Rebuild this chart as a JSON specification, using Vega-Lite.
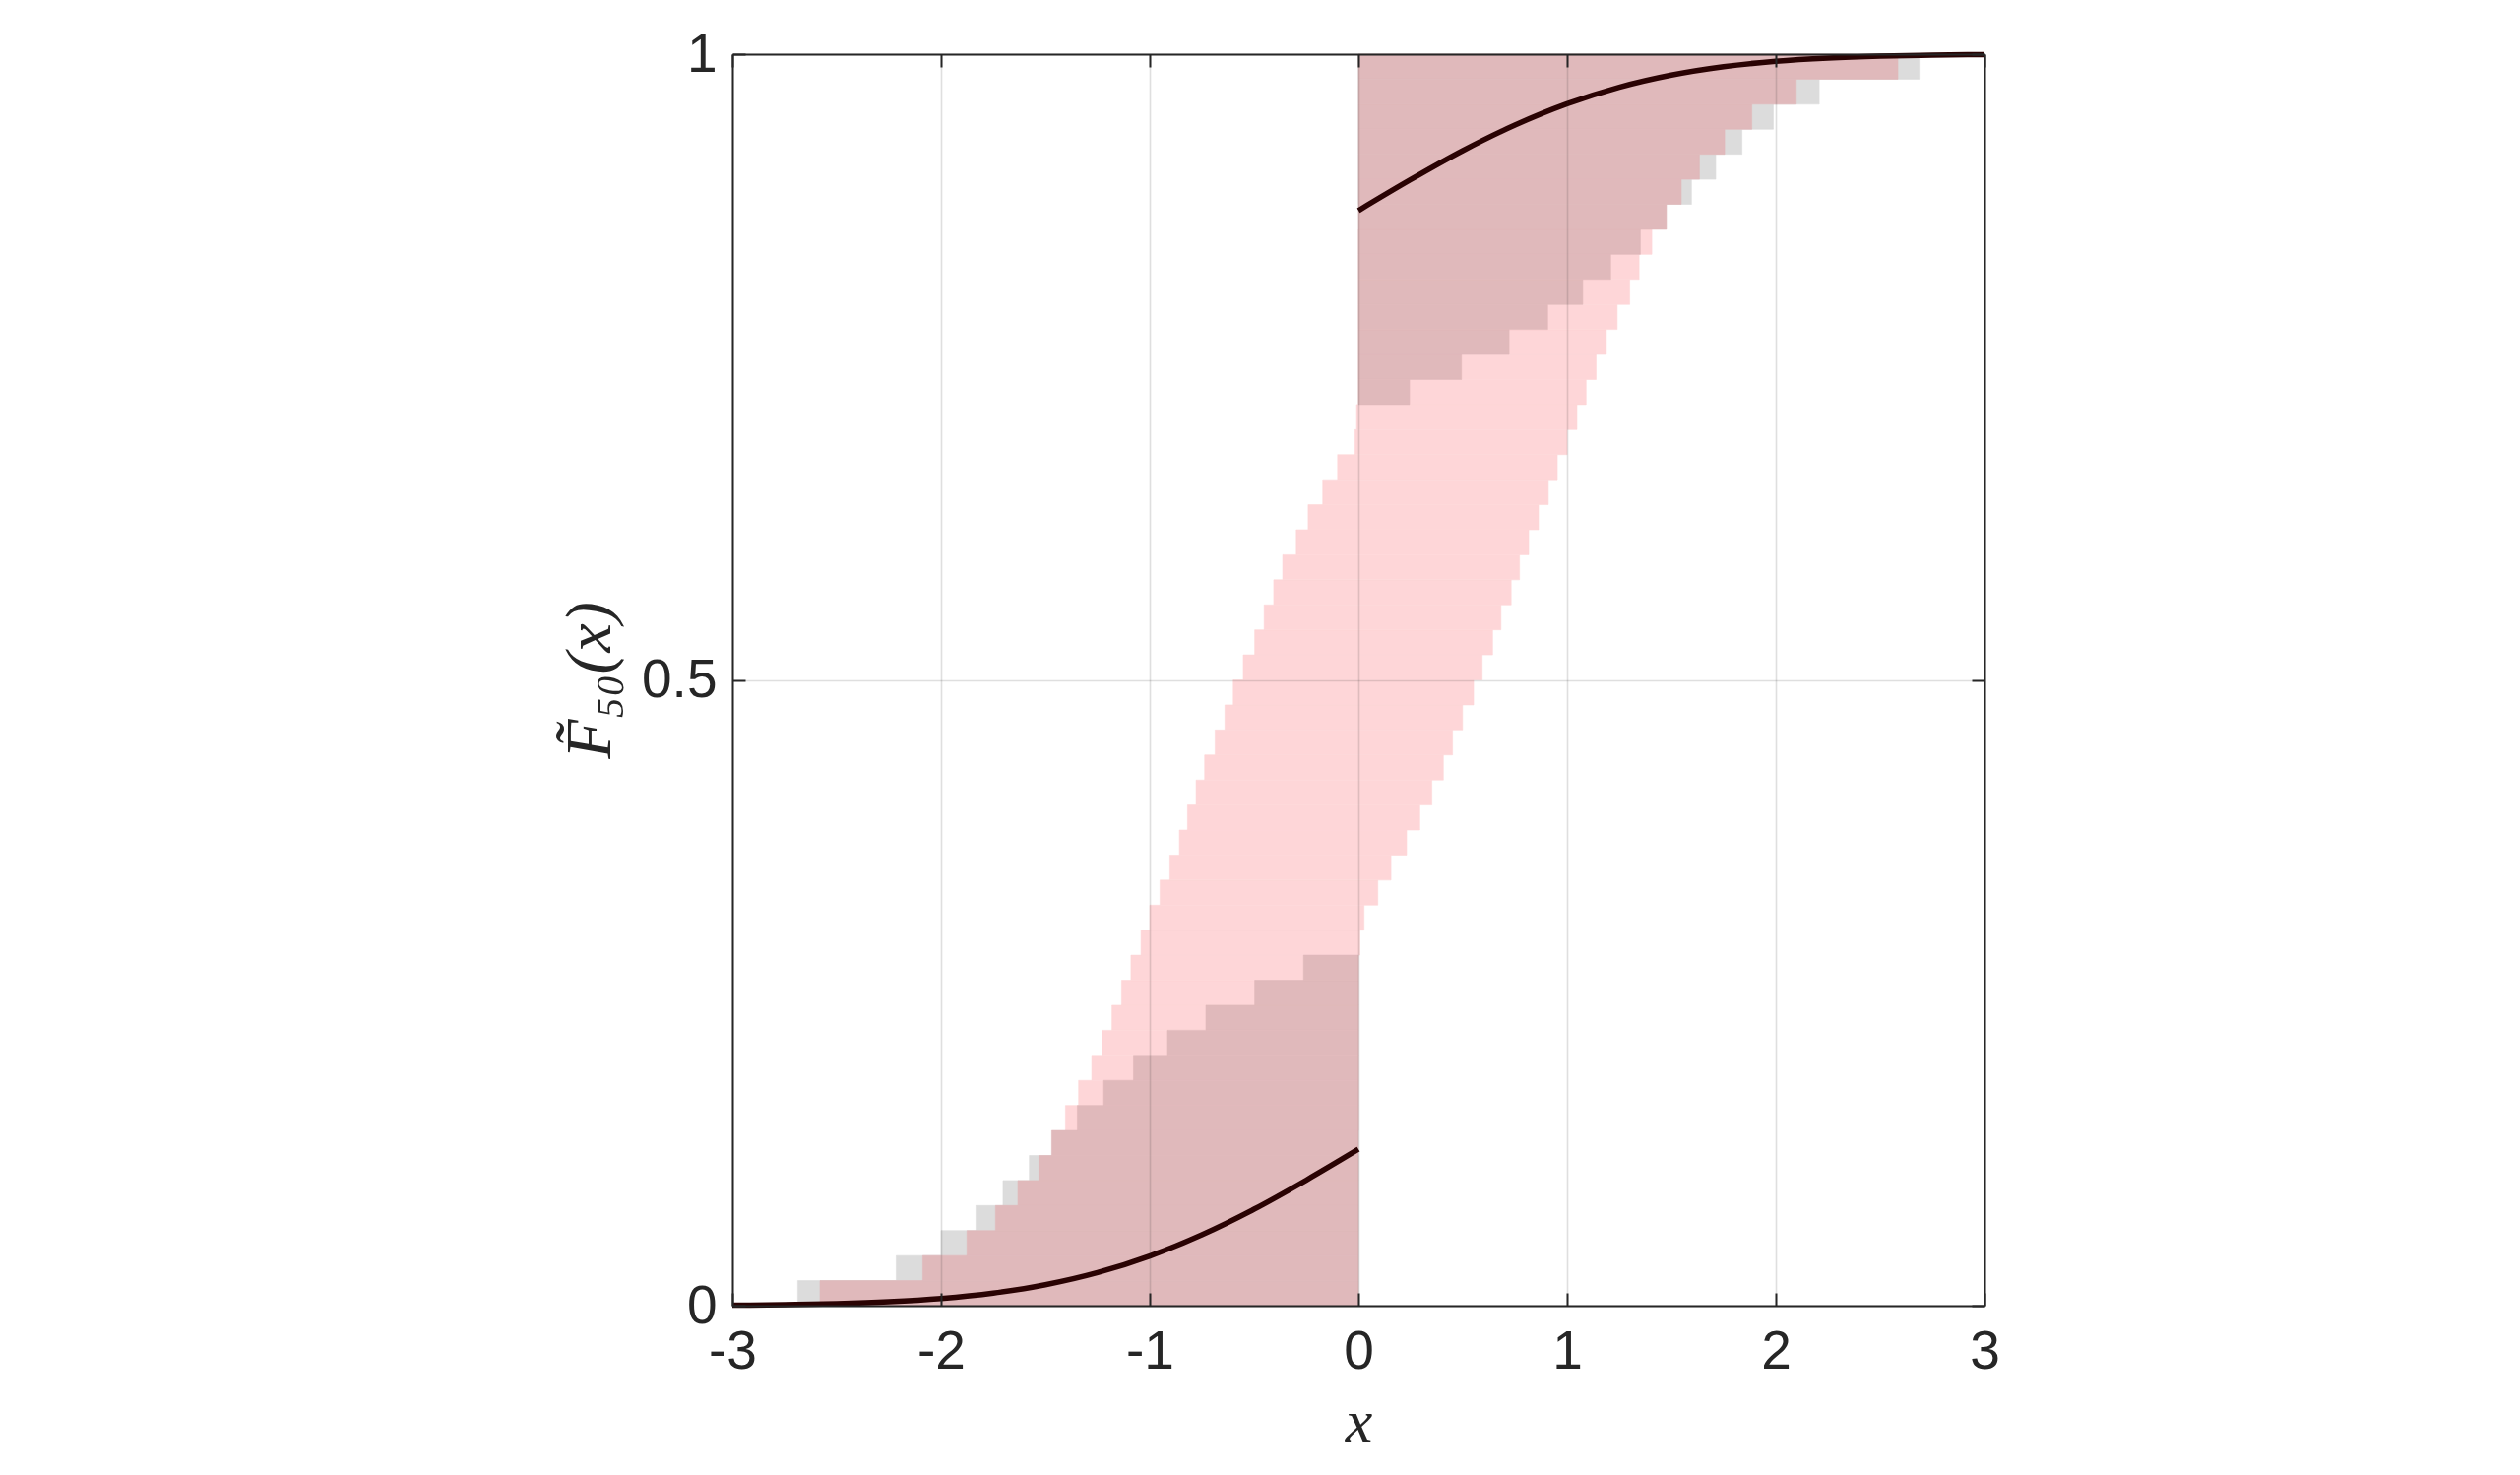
{
  "$schema": "https://vega.github.io/schema/vega-lite/v6.json",
  "autosize": {"type": "none"},
  "width": 1272,
  "height": 1271,
  "padding": {"left": 744, "top": 55, "right": 544, "bottom": 172},
  "background": "white",
  "config": {"view": {"stroke": null}},
  "datasets": {
    "pink": [
      {"y0": 0.14, "y1": 0.16, "xl": -1.404, "xr": 0},
      {"y0": 0.16, "y1": 0.18, "xl": -1.341, "xr": 0},
      {"y0": 0.18, "y1": 0.20, "xl": -1.278, "xr": 0},
      {"y0": 0.20, "y1": 0.22, "xl": -1.228, "xr": 0},
      {"y0": 0.22, "y1": 0.24, "xl": -1.181, "xr": 0},
      {"y0": 0.24, "y1": 0.26, "xl": -1.135, "xr": 0},
      {"y0": 0.26, "y1": 0.28, "xl": -1.090, "xr": 0},
      {"y0": 0.28, "y1": 0.30, "xl": -1.042, "xr": 0.007},
      {"y0": 0.30, "y1": 0.32, "xl": -1.000, "xr": 0.027},
      {"y0": 0.32, "y1": 0.34, "xl": -0.951, "xr": 0.093},
      {"y0": 0.34, "y1": 0.36, "xl": -0.904, "xr": 0.156},
      {"y0": 0.36, "y1": 0.38, "xl": -0.858, "xr": 0.231},
      {"y0": 0.38, "y1": 0.40, "xl": -0.819, "xr": 0.294},
      {"y0": 0.40, "y1": 0.42, "xl": -0.778, "xr": 0.352},
      {"y0": 0.42, "y1": 0.44, "xl": -0.737, "xr": 0.407},
      {"y0": 0.44, "y1": 0.46, "xl": -0.687, "xr": 0.451},
      {"y0": 0.46, "y1": 0.48, "xl": -0.640, "xr": 0.499},
      {"y0": 0.48, "y1": 0.50, "xl": -0.600, "xr": 0.552},
      {"y0": 0.50, "y1": 0.52, "xl": -0.552, "xr": 0.593},
      {"y0": 0.52, "y1": 0.54, "xl": -0.497, "xr": 0.643},
      {"y0": 0.54, "y1": 0.56, "xl": -0.452, "xr": 0.683},
      {"y0": 0.56, "y1": 0.58, "xl": -0.406, "xr": 0.732},
      {"y0": 0.58, "y1": 0.60, "xl": -0.363, "xr": 0.772},
      {"y0": 0.60, "y1": 0.62, "xl": -0.298, "xr": 0.816},
      {"y0": 0.62, "y1": 0.64, "xl": -0.241, "xr": 0.863},
      {"y0": 0.64, "y1": 0.66, "xl": -0.171, "xr": 0.910},
      {"y0": 0.66, "y1": 0.68, "xl": -0.100, "xr": 0.953},
      {"y0": 0.68, "y1": 0.70, "xl": -0.017, "xr": 1.000},
      {"y0": 0.70, "y1": 0.72, "xl": -0.009, "xr": 1.047},
      {"y0": 0.72, "y1": 0.74, "xl": 0, "xr": 1.091},
      {"y0": 0.74, "y1": 0.76, "xl": 0, "xr": 1.139},
      {"y0": 0.76, "y1": 0.78, "xl": 0, "xr": 1.188},
      {"y0": 0.78, "y1": 0.80, "xl": 0, "xr": 1.240},
      {"y0": 0.80, "y1": 0.82, "xl": 0, "xr": 1.300},
      {"y0": 0.82, "y1": 0.84, "xl": 0, "xr": 1.345},
      {"y0": 0.84, "y1": 0.86, "xl": 0, "xr": 1.406}
    ],
    "grey": [
      {"y0": 0.00, "y1": 0.02, "x0": -2.687, "x1": 0},
      {"y0": 0.02, "y1": 0.04, "x0": -2.215, "x1": 0},
      {"y0": 0.04, "y1": 0.06, "x0": -2.000, "x1": 0},
      {"y0": 0.06, "y1": 0.08, "x0": -1.833, "x1": 0},
      {"y0": 0.08, "y1": 0.10, "x0": -1.703, "x1": 0},
      {"y0": 0.10, "y1": 0.12, "x0": -1.577, "x1": 0},
      {"y0": 0.88, "y1": 0.90, "x0": 0, "x1": 1.596},
      {"y0": 0.90, "y1": 0.92, "x0": 0, "x1": 1.712},
      {"y0": 0.92, "y1": 0.94, "x0": 0, "x1": 1.838},
      {"y0": 0.94, "y1": 0.96, "x0": 0, "x1": 1.988},
      {"y0": 0.96, "y1": 0.98, "x0": 0, "x1": 2.208},
      {"y0": 0.98, "y1": 1.00, "x0": 0, "x1": 2.687}
    ],
    "mauve": [
      {"y0": 0.00, "y1": 0.02, "x0": -2.580, "x1": 0},
      {"y0": 0.02, "y1": 0.04, "x0": -2.088, "x1": 0},
      {"y0": 0.04, "y1": 0.06, "x0": -1.876, "x1": 0},
      {"y0": 0.06, "y1": 0.08, "x0": -1.739, "x1": 0},
      {"y0": 0.08, "y1": 0.10, "x0": -1.632, "x1": 0},
      {"y0": 0.10, "y1": 0.12, "x0": -1.531, "x1": 0},
      {"y0": 0.12, "y1": 0.14, "x0": -1.470, "x1": 0},
      {"y0": 0.14, "y1": 0.16, "x0": -1.347, "x1": 0},
      {"y0": 0.16, "y1": 0.18, "x0": -1.221, "x1": 0},
      {"y0": 0.18, "y1": 0.20, "x0": -1.078, "x1": 0},
      {"y0": 0.20, "y1": 0.22, "x0": -0.915, "x1": 0},
      {"y0": 0.22, "y1": 0.24, "x0": -0.731, "x1": 0},
      {"y0": 0.24, "y1": 0.26, "x0": -0.497, "x1": 0},
      {"y0": 0.26, "y1": 0.28, "x0": -0.263, "x1": 0},
      {"y0": 0.72, "y1": 0.74, "x0": 0, "x1": 0.245},
      {"y0": 0.74, "y1": 0.76, "x0": 0, "x1": 0.494},
      {"y0": 0.76, "y1": 0.78, "x0": 0, "x1": 0.722},
      {"y0": 0.78, "y1": 0.80, "x0": 0, "x1": 0.907},
      {"y0": 0.80, "y1": 0.82, "x0": 0, "x1": 1.075},
      {"y0": 0.82, "y1": 0.84, "x0": 0, "x1": 1.209},
      {"y0": 0.84, "y1": 0.86, "x0": 0, "x1": 1.351},
      {"y0": 0.86, "y1": 0.88, "x0": 0, "x1": 1.476},
      {"y0": 0.88, "y1": 0.90, "x0": 0, "x1": 1.547},
      {"y0": 0.90, "y1": 0.92, "x0": 0, "x1": 1.634},
      {"y0": 0.92, "y1": 0.94, "x0": 0, "x1": 1.755},
      {"y0": 0.94, "y1": 0.96, "x0": 0, "x1": 1.885},
      {"y0": 0.96, "y1": 0.98, "x0": 0, "x1": 2.098},
      {"y0": 0.98, "y1": 1.00, "x0": 0, "x1": 2.585}
    ],
    "curve": [
      {"seg": "L", "x": -3.0, "y": 0.0003},
      {"seg": "L", "x": -2.75, "y": 0.0008},
      {"seg": "L", "x": -2.5, "y": 0.0016},
      {"seg": "L", "x": -2.25, "y": 0.0031},
      {"seg": "L", "x": -2.0, "y": 0.0057},
      {"seg": "L", "x": -1.75, "y": 0.0100},
      {"seg": "L", "x": -1.5, "y": 0.0167},
      {"seg": "L", "x": -1.25, "y": 0.0264},
      {"seg": "L", "x": -1.0, "y": 0.0397},
      {"seg": "L", "x": -0.75, "y": 0.0567},
      {"seg": "L", "x": -0.5, "y": 0.0771},
      {"seg": "L", "x": -0.25, "y": 0.1003},
      {"seg": "L", "x": 0.0, "y": 0.125},
      {"seg": "R", "x": 0.0, "y": 0.875},
      {"seg": "R", "x": 0.25, "y": 0.8997},
      {"seg": "R", "x": 0.5, "y": 0.9229},
      {"seg": "R", "x": 0.75, "y": 0.9433},
      {"seg": "R", "x": 1.0, "y": 0.9603},
      {"seg": "R", "x": 1.25, "y": 0.9736},
      {"seg": "R", "x": 1.5, "y": 0.9833},
      {"seg": "R", "x": 1.75, "y": 0.9900},
      {"seg": "R", "x": 2.0, "y": 0.9943},
      {"seg": "R", "x": 2.25, "y": 0.9969},
      {"seg": "R", "x": 2.5, "y": 0.9984},
      {"seg": "R", "x": 2.75, "y": 0.9992},
      {"seg": "R", "x": 3.0, "y": 0.9997}
    ]
  },
  "resolve": {"axis": {"x": "independent", "y": "independent"}},
  "layer": [
    {
      "data": {"name": "pink"},
      "mark": {"type": "rect", "color": "#FED6D8", "stroke": "#FED6D8", "strokeWidth": 0.6},
      "encoding": {
        "x": {"field": "xl", "type": "quantitative", "scale": {"domain": [-3, 3], "nice": false, "zero": false}, "axis": null},
        "x2": {"field": "xr"},
        "y": {"field": "y0", "type": "quantitative", "scale": {"domain": [0, 1], "nice": false}, "axis": null},
        "y2": {"field": "y1"}
      }
    },
    {
      "data": {"name": "grey"},
      "mark": {"type": "rect", "color": "#DCDCDC", "stroke": "#DCDCDC", "strokeWidth": 0.6},
      "encoding": {
        "x": {"field": "x0", "type": "quantitative", "scale": {"domain": [-3, 3], "nice": false, "zero": false}, "axis": null},
        "x2": {"field": "x1"},
        "y": {"field": "y0", "type": "quantitative", "scale": {"domain": [0, 1], "nice": false}, "axis": null},
        "y2": {"field": "y1"}
      }
    },
    {
      "data": {"name": "mauve"},
      "mark": {"type": "rect", "color": "#E0B9BB", "stroke": "#E0B9BB", "strokeWidth": 0.6},
      "encoding": {
        "x": {"field": "x0", "type": "quantitative", "scale": {"domain": [-3, 3], "nice": false, "zero": false}, "axis": null},
        "x2": {"field": "x1"},
        "y": {"field": "y0", "type": "quantitative", "scale": {"domain": [0, 1], "nice": false}, "axis": null},
        "y2": {"field": "y1"}
      }
    },
    {
      "data": {"name": "curve"},
      "mark": {"type": "line", "color": "#2A0303", "strokeWidth": 5.5, "interpolate": "monotone"},
      "encoding": {
        "detail": {"field": "seg", "type": "nominal"},
        "x": {
          "field": "x", "type": "quantitative",
          "scale": {"domain": [-3, 3], "nice": false, "zero": false},
          "axis": {
            "orient": "bottom", "zindex": 1,
            "values": [-3, -2, -1, 0, 1, 2, 3],
            "labelExpr": "toString(datum.value)",
            "grid": true, "gridColor": "#262626", "gridOpacity": 0.15, "gridWidth": 1.6,
            "domain": true, "domainColor": "#262626", "domainWidth": 2,
            "ticks": true, "tickColor": "#262626", "tickWidth": 2, "tickSize": -13,
            "labelFont": "Liberation Sans", "labelFontSize": 55, "labelColor": "#262626", "labelPadding": 33,
            "labelFlush": false, "labelOverlap": false,
            "title": "x", "titleFont": "Liberation Serif", "titleFontStyle": "italic", "titleFontWeight": "normal",
            "titleFontSize": 62, "titleColor": "#262626", "titlePadding": 14
          }
        },
        "y": {
          "field": "y", "type": "quantitative",
          "scale": {"domain": [0, 1], "nice": false},
          "axis": {
            "orient": "left", "zindex": 1,
            "values": [0, 0.5, 1],
            "labelExpr": "toString(datum.value)",
            "grid": true, "gridColor": "#262626", "gridOpacity": 0.15, "gridWidth": 1.6,
            "domain": true, "domainColor": "#262626", "domainWidth": 2,
            "ticks": true, "tickColor": "#262626", "tickWidth": 2, "tickSize": -13,
            "labelFont": "Liberation Sans", "labelFontSize": 55, "labelColor": "#262626", "labelPadding": 29,
            "labelFlush": false, "labelOverlap": false,
            "title": "F̃₅₀(x)", "titleFont": "Liberation Serif, DejaVu Serif", "titleFontStyle": "italic", "titleFontWeight": "normal",
            "titleFontSize": 66, "titleColor": "#262626", "titlePadding": 18
          }
        }
      }
    },
    {
      "data": {"name": "curve"},
      "mark": {"type": "line", "strokeOpacity": 0},
      "encoding": {
        "detail": {"field": "seg", "type": "nominal"},
        "x": {
          "field": "x", "type": "quantitative",
          "scale": {"domain": [-3, 3], "nice": false, "zero": false},
          "axis": {
            "orient": "top", "zindex": 1, "values": [-3, -2, -1, 0, 1, 2, 3],
            "grid": false, "labels": false, "title": null,
            "domain": true, "domainColor": "#262626", "domainWidth": 2,
            "ticks": true, "tickColor": "#262626", "tickWidth": 2, "tickSize": -13
          }
        },
        "y": {
          "field": "y", "type": "quantitative",
          "scale": {"domain": [0, 1], "nice": false},
          "axis": {
            "orient": "right", "zindex": 1, "values": [0, 0.5, 1],
            "grid": false, "labels": false, "title": null,
            "domain": true, "domainColor": "#262626", "domainWidth": 2,
            "ticks": true, "tickColor": "#262626", "tickWidth": 2, "tickSize": -13
          }
        }
      }
    }
  ]
}
